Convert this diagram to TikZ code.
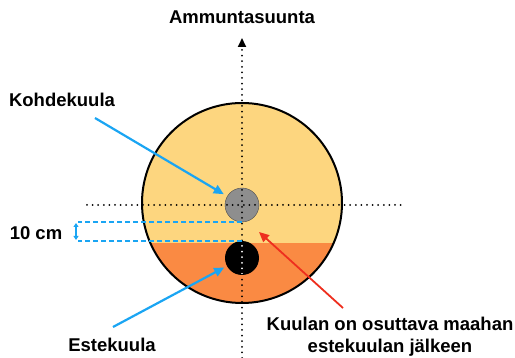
\documentclass[tikz,border=0pt]{standalone}
\usepackage{fontspec}
\setmainfont{Liberation Sans}
\usetikzlibrary{arrows.meta}
\definecolor{lightpeach}{HTML}{FDD67F}
\definecolor{deeporange}{HTML}{FA8A43}
\definecolor{skyblue}{HTML}{1AA5F3}
\definecolor{alertred}{HTML}{EE2E1E}
\definecolor{ballgray}{HTML}{8E8E8E}
\tikzset{
  labeltext/.style={font=\bfseries\fontsize{18.5}{22}\selectfont, align=center, inner sep=0pt},
  dotline/.style={line width=2pt, line cap=round, dash pattern=on 0pt off 5.6pt},
  pointer/.style={line width=2.2pt, -{Triangle[length=10pt,width=9pt]}},
  measure/.style={skyblue, line width=2pt, dash pattern=on 5pt off 3pt},
  ball/.style={circle, minimum size=34pt, inner sep=0pt},
}
\begin{document}
\begin{tikzpicture}[x=1pt,y=-1pt]
  \useasboundingbox (0,0) rectangle (515,358);
  % ground
  \coordinate (c) at (242,203);
  \fill [lightpeach] (c) circle [radius=100];
  \begin{scope}
    \clip (c) circle [radius=100];
    \fill [deeporange] (130,243) rectangle (360,310);
  \end{scope}
  \draw [line width=2pt] (c) circle [radius=100];
  % balls
  \node (target)   [ball, fill=ballgray, draw=gray!60!black] at (242,205) {};
  \node (obstacle) [ball, fill=black] at (242,258) {};
  % axes
  \coordinate (bottom) at (242,358);
  \coordinate (top)    at (242,38);
  \draw [dotline, -{Triangle[length=9pt,width=8pt]}] (bottom) -- (top);
  \draw [dotline] (87,205) -- (402,205);
  \begin{scope}
    \clip (242,258) circle [radius=16];
    \draw [dotline, white] (bottom) -- (top);
  \end{scope}
  % 10 cm
  \draw [measure] (target.south) -- ++(-164,0);
  \draw [measure] (obstacle.north) -- ++(-164,0);
  \draw [skyblue, line width=1.5pt, {Triangle[length=4pt,width=5pt]}-{Triangle[length=4pt,width=5pt]}]
    (76,223) -- (76,240);
  % labels
  \node (aim)   [labeltext] at (242,17)  {Ammuntasuunta};
  \node (kohde) [labeltext] at (62,100)  {Kohdekuula};
  \node (dist)  [labeltext] at (36,233)  {10 cm};
  \node (este)  [labeltext] at (112,345) {Estekuula};
  \node (rule)  [labeltext] at (390,337) {Kuulan on osuttava maahan\\estekuulan jälkeen};
  % pointers
  \coordinate (kohde tail) at (95,118);
  \draw [pointer, skyblue, shorten >=4pt] (kohde tail) -- (target);
  \coordinate (este tail) at (113,327);
  \draw [pointer, skyblue, shorten >=3pt] (este tail) -- (obstacle);
  \coordinate (rule tail) at (343,308);
  \coordinate (landing)   at (259,232);
  \draw [pointer, alertred, line width=1.8pt] (rule tail) -- (landing);
\end{tikzpicture}
\end{document}
